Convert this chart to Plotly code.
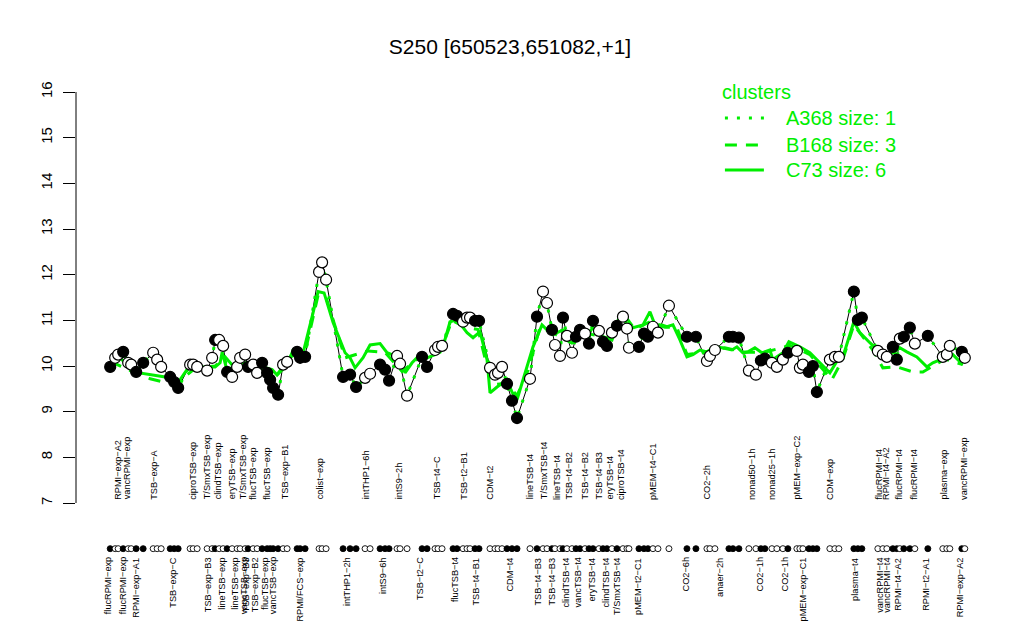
import plotly.graph_objects as go

# ---------------- data ----------------
# sample positions along the (hidden) x axis, expression values, and fill flag (1 = filled dot)
pos = [110, 115, 118, 123, 128, 131, 136, 143, 153, 157, 161, 170, 174, 178, 190, 193, 197,
       207, 212, 215, 219, 223, 227, 232, 237, 240, 245, 248, 253, 257, 262, 267, 270, 273,
       278, 283, 287, 297, 300, 305, 319, 322, 326, 343, 350, 356, 365, 370, 380, 385, 389,
       397, 400, 407, 422, 427, 435, 438, 442, 453, 457, 463, 467, 470, 475, 479, 490, 495,
       498, 502, 507, 512, 517, 530, 537, 543, 547, 552, 555, 560, 563, 567, 572, 576, 580,
       585, 589, 593, 599, 603, 607, 612, 617, 623, 627, 629, 639, 644, 648, 653, 658, 669,
       687, 696, 707, 710, 715, 729, 733, 739, 749, 756, 761, 765, 772, 777, 783, 788, 797,
       800, 803, 809, 813, 817, 830, 835, 839, 854, 858, 862, 878, 883, 887, 893, 897, 900,
       904, 910, 915, 928, 943, 947, 950, 962, 965]
values = [9.98, 10.18, 10.25, 10.31, 10.07, 10.03, 9.87, 10.07, 10.29, 10.14, 9.98, 9.76, 9.65,
          9.52, 10.03, 10.03, 9.98, 9.90, 10.18, 10.57, 10.57, 10.44, 9.87, 9.76, 9.98, 10.18,
          10.25, 9.98, 10.03, 9.85, 10.07, 9.85, 9.70, 9.52, 9.37, 10.03, 10.09, 10.31, 10.18,
          10.20, 12.06, 12.27, 11.89, 9.76, 9.81, 9.54, 9.74, 9.83, 10.03, 9.92, 9.68, 10.22,
          10.05, 9.35, 10.20, 9.98, 10.35, 10.42, 10.44, 11.14, 11.10, 10.97, 11.06, 11.06,
          10.99, 10.99, 9.96, 9.81, 9.85, 9.98, 9.61, 9.24, 8.86, 9.72, 11.08, 11.63, 11.38,
          10.79, 10.46, 10.22, 11.06, 10.66, 10.29, 10.64, 10.79, 10.71, 10.49, 10.99, 10.77,
          10.53, 10.44, 10.73, 10.88, 11.08, 10.82, 10.40, 10.42, 10.71, 10.64, 10.86, 10.73,
          11.32, 10.64, 10.64, 10.11, 10.22, 10.35, 10.64, 10.64, 10.62, 9.90, 9.81, 10.12,
          10.16, 10.07, 9.98, 10.14, 10.29, 10.33, 9.96, 10.03, 9.87, 10.00, 9.43, 10.14,
          10.20, 10.20, 11.63, 11.01, 11.06, 10.33, 10.25, 10.20, 10.42, 10.14, 10.60, 10.64,
          10.84, 10.49, 10.66, 10.20, 10.25, 10.44, 10.31, 10.18]
filled = [1, 0, 0, 1, 0, 0, 1, 1, 0, 0, 0, 1, 1, 1, 0, 0, 0, 0, 0, 1, 0, 0, 1, 0, 0, 0, 0, 1,
          0, 0, 1, 1, 1, 1, 1, 0, 0, 1, 1, 1, 0, 0, 0, 1, 1, 1, 0, 0, 1, 1, 1, 0, 0, 0, 1, 1,
          0, 0, 0, 1, 1, 0, 0, 0, 1, 1, 0, 0, 0, 0, 1, 1, 1, 0, 1, 0, 0, 1, 0, 0, 1, 0, 0, 1,
          1, 0, 1, 1, 0, 1, 1, 0, 1, 0, 0, 0, 1, 1, 1, 0, 0, 0, 1, 1, 0, 0, 0, 1, 1, 1, 0, 0,
          1, 1, 0, 0, 0, 1, 0, 0, 0, 1, 1, 1, 0, 0, 0, 1, 1, 1, 0, 0, 0, 1, 1, 0, 1, 1, 0, 1,
          0, 0, 0, 1, 0]

# cluster profile C73 (solid green)
c73_pos = [110, 120, 133, 153, 165, 175, 180, 188, 200, 215, 220, 222, 227, 233, 243, 253, 263,
           272, 277, 282, 287, 293, 303, 313, 318, 324, 333, 345, 350, 355, 363, 370, 380, 387,
           392, 400, 405, 412, 420, 427, 435, 442, 450, 457, 467, 473, 480, 487, 490, 497, 507,
           512, 517, 523, 533, 542, 547, 550, 557, 563, 570, 577, 587, 593, 603, 612, 622, 628,
           633, 643, 650, 655, 662, 667, 673, 680, 687, 693, 700, 707, 715, 722, 732, 737, 743,
           748, 755, 762, 770, 773, 783, 789, 800, 810, 822, 830, 838, 843, 854, 860, 870, 878,
           887, 893, 900, 907, 917, 927, 933, 945, 953, 963]
c73_val = [10.05, 10.18, 9.87, 9.80, 9.76, 9.63, 9.70, 9.96, 9.98, 9.98, 10.07, 10.30, 9.90,
           9.98, 10.07, 10.07, 9.98, 9.92, 9.80, 9.92, 10.03, 10.35, 10.29, 11.17, 11.63, 11.60,
           10.95, 10.29, 10.18, 9.96, 10.18, 10.46, 10.49, 10.29, 10.25, 10.18, 9.85, 10.07,
           10.25, 10.18, 10.25, 10.35, 10.97, 11.01, 10.73, 10.62, 10.75, 10.14, 9.41, 9.54,
           9.70, 9.43, 9.26, 9.70, 10.42, 10.90, 10.79, 10.86, 10.73, 10.79, 10.64, 10.75,
           10.68, 10.84, 10.64, 10.57, 11.19, 10.84, 10.84, 10.90, 11.19, 10.90, 10.90, 10.86,
           10.90, 10.57, 10.20, 10.25, 10.35, 10.31, 10.42, 10.40, 10.35, 10.42, 10.29, 10.31,
           10.40, 10.29, 10.35, 10.14, 10.29, 10.53, 10.42, 10.29, 10.03, 9.85, 10.14, 10.20,
           10.97, 10.73, 10.51, 10.35, 10.20, 10.29, 10.40, 10.31, 10.20, 9.98, 10.07, 10.18,
           10.25, 10.03]

# cluster profile B168 (dashed green)
b168_pos = [110, 130, 150, 167, 180, 195, 215, 225, 235, 255, 275, 290, 305, 318, 326, 345, 368,
            385, 402, 420, 440, 452, 465, 478, 488, 497, 507, 517, 528, 540, 555, 572, 590, 610,
            622, 635, 650, 665, 677, 687, 705, 725, 745, 765, 790, 810, 832, 843, 854, 873, 883,
            897, 913, 923, 945, 963]
b168_val = [10.10, 9.90, 9.72, 9.63, 9.68, 9.95, 10.00, 10.20, 9.95, 10.00, 9.75, 10.20, 10.30,
            11.55, 11.50, 10.18, 10.33, 10.30, 9.88, 10.20, 10.30, 11.00, 10.85, 10.80, 9.90,
            9.60, 9.62, 9.35, 9.90, 10.85, 10.70, 10.50, 10.70, 10.60, 11.19, 10.80, 10.97,
            10.85, 10.84, 10.25, 10.30, 10.40, 10.30, 10.30, 10.45, 10.25, 9.70, 10.15, 10.90,
            10.35, 9.96, 9.98, 9.87, 9.87, 10.15, 10.03]

# condition labels (upper row and lower row) with their sample positions
top_labels = ["RPMI\u2212exp\u2212A2", "vancRPMI\u2212exp", "TSB\u2212exp\u2212A", "ciproTSB\u2212exp",
              "T/SmxTSB\u2212exp", "clindTSB\u2212exp", "eryTSB\u2212exp", "T/SmxTSB\u2212exp",
              "flucTSB\u2212exp", "flucTSB\u2212exp", "TSB\u2212exp\u2212B1", "colist\u2212exp",
              "intTHP1\u22126h", "intS9\u22122h", "TSB\u2212t4\u2212C", "TSB\u2212t2\u2212B1", "CDM\u2212t2",
              "lineTSB\u2212t4", "T/SmxTSB\u2212t4", "lineTSB\u2212t4", "TSB\u2212t4\u2212B2",
              "TSB\u2212t4\u2212B2", "TSB\u2212t4\u2212B3", "eryTSB\u2212t4", "ciproTSB\u2212t4",
              "pMEM\u2212t4\u2212C1", "CO2\u22122h", "nonad50\u22121h", "nonad25\u22121h",
              "pMEM\u2212exp\u2212C2", "CDM\u2212exp", "flucRPMI\u2212t4", "RPMI\u2212t4\u2212A2",
              "flucRPMI\u2212t4", "flucRPMI\u2212t4", "plasma\u2212exp", "vancRPMI\u2212exp"]
top_pos = [117, 127, 153, 192, 207, 218, 232, 243, 253, 267, 285, 320, 366, 399, 437, 464, 490,
           530, 544, 557, 569, 585, 599, 610, 621, 653, 707, 752, 772, 797, 830, 879, 886, 899,
           914, 944, 964]
bottom_labels = ["flucRPMI\u2212exp", "flucRPMI\u2212exp", "RPMI\u2212exp\u2212A1", "TSB\u2212exp\u2212C",
                 "TSB\u2212exp\u2212B3", "lineTSB\u2212exp", "lineTSB\u2212exp", "vancTSB\u2212exp",
                 "TSB\u2212exp\u2212B3", "TSB\u2212exp\u2212B2", "flucTSB\u2212exp", "vancTSB\u2212exp",
                 "RPMI/FCS\u2212exp", "intTHP1\u22122h", "intS9\u22126h", "TSB\u2212t2\u2212C",
                 "flucTSB\u2212t4", "TSB\u2212t4\u2212B1", "CDM\u2212t4", "TSB\u2212t4\u2212B3",
                 "TSB\u2212t4\u2212B3", "clindTSB\u2212t4", "vancTSB\u2212t4", "eryTSB\u2212t4",
                 "clindTSB\u2212t4", "T/SmxTSB\u2212t4", "pMEM\u2212t2\u2212C1", "CO2\u22126h",
                 "anaer\u22122h", "CO2\u22121h", "CO2\u22121h", "pMEM\u2212exp\u2212C1", "plasma\u2212t4",
                 "vancRPMI\u2212t4", "vancRPMI\u2212t4", "RPMI\u2212t4\u2212A2", "RPMI\u2212t2\u2212A1",
                 "RPMI\u2212exp\u2212A2"]
bottom_pos = [108, 123, 135, 172, 208, 221, 234, 244, 246, 255, 264, 273, 299, 347, 383, 420,
              455, 475, 510, 538, 552, 566, 578, 592, 606, 617, 638, 686, 720, 760, 785, 803,
              855, 880, 887, 898, 926, 960]

legend_names = ["A368 size: 1", "B168 size: 3", "C73 size: 6"]
y_ticks = list(range(7, 17))

# ---------------- figure ----------------
GREEN = "#00ee00"
FONT = "Liberation Sans, Arial, Helvetica, sans-serif"
LABEL_SIZE = 9.2

fig = go.Figure()

# gene profile (black line)
fig.add_trace(go.Scatter(x=pos, y=values, mode="lines",
                         line=dict(color="black", width=1), hoverinfo="skip"))
# cluster lines
fig.add_trace(go.Scatter(x=pos, y=values, mode="lines",
                         line=dict(color=GREEN, width=3, dash="3px,9px"), hoverinfo="skip"))
fig.add_trace(go.Scatter(x=b168_pos, y=b168_val, mode="lines",
                         line=dict(color=GREEN, width=3, dash="12px,9px"), hoverinfo="skip"))
fig.add_trace(go.Scatter(x=c73_pos, y=c73_val, mode="lines",
                         line=dict(color=GREEN, width=3), hoverinfo="skip"))
# gene points
fig.add_trace(go.Scatter(x=pos, y=values, mode="markers",
                         marker=dict(size=11, color=["black" if f else "white" for f in filled],
                                     line=dict(color="black", width=1.2)),
                         hoverinfo="skip"))
# sample dot row
fig.add_trace(go.Scatter(x=pos, y=[6.0] * len(pos), mode="markers",
                         marker=dict(size=6, color=["black" if f else "white" for f in filled],
                                     line=dict(color="black", width=0.9)),
                         hoverinfo="skip"))

annotations = []
for lab, p in zip(top_labels, top_pos):
    annotations.append(dict(x=p, y=7.03, xref="x", yref="y", text=lab, showarrow=False,
                            textangle=-90, xanchor="center", yanchor="bottom",
                            font=dict(size=LABEL_SIZE, color="black", family=FONT)))
for lab, p in zip(bottom_labels, bottom_pos):
    annotations.append(dict(x=p, y=5.85, xref="x", yref="y", text=lab, showarrow=False,
                            textangle=-90, xanchor="center", yanchor="top",
                            font=dict(size=LABEL_SIZE, color="black", family=FONT)))

# legend drawn in user coordinates
annotations.append(dict(x=720, y=16.0, xref="x", yref="y", text="clusters", showarrow=False,
                        xanchor="left", yanchor="middle",
                        font=dict(size=20, color=GREEN, family=FONT)))
leg_y = [15.43, 14.84, 14.29]
leg_dash = ["3px,9px", "12px,9px", "solid"]
shapes = []
for name, ly, dsh in zip(legend_names, leg_y, leg_dash):
    annotations.append(dict(x=784, y=ly, xref="x", yref="y", text=name, showarrow=False,
                            xanchor="left", yanchor="middle",
                            font=dict(size=20, color=GREEN, family=FONT)))
    shapes.append(dict(type="line", xref="x", yref="y", x0=725, x1=764, y0=ly, y1=ly,
                       line=dict(color=GREEN, width=3, dash=dsh)))

# y axis line only from 7 to 16
shapes.append(dict(type="line", xref="paper", yref="y", x0=0, x1=0, y0=7, y1=16,
                   line=dict(color="black", width=1)))

x_lo = min(pos) - 0.04 * (max(pos) - min(pos))
x_hi = max(pos) + 0.04 * (max(pos) - min(pos))

# the page body adds an 8px offset, so the figure is 8px smaller than the window
fig.update_layout(
    width=1016, height=632,
    margin=dict(l=68, r=25, t=52, b=10),
    paper_bgcolor="white", plot_bgcolor="white",
    showlegend=False,
    title=dict(text="S250 [650523,651082,+1]", x=502 / 1016, xref="container", xanchor="center",
               y=1 - 39 / 632, yanchor="middle",
               font=dict(size=21, color="black", family=FONT)),
    xaxis=dict(range=[x_lo, x_hi], visible=False),
    yaxis=dict(range=[4.219, 16.7007], tickvals=y_ticks, ticktext=[str(t) for t in y_ticks],
               ticks="outside", ticklen=12, tickwidth=1, tickcolor="black",
               tickangle=-90, ticklabelstandoff=5, showgrid=False, zeroline=False,
               showline=False,
               tickfont=dict(size=15, color="black", family=FONT)),
    annotations=annotations,
    shapes=shapes,
)

fig.write_html("out.html")
